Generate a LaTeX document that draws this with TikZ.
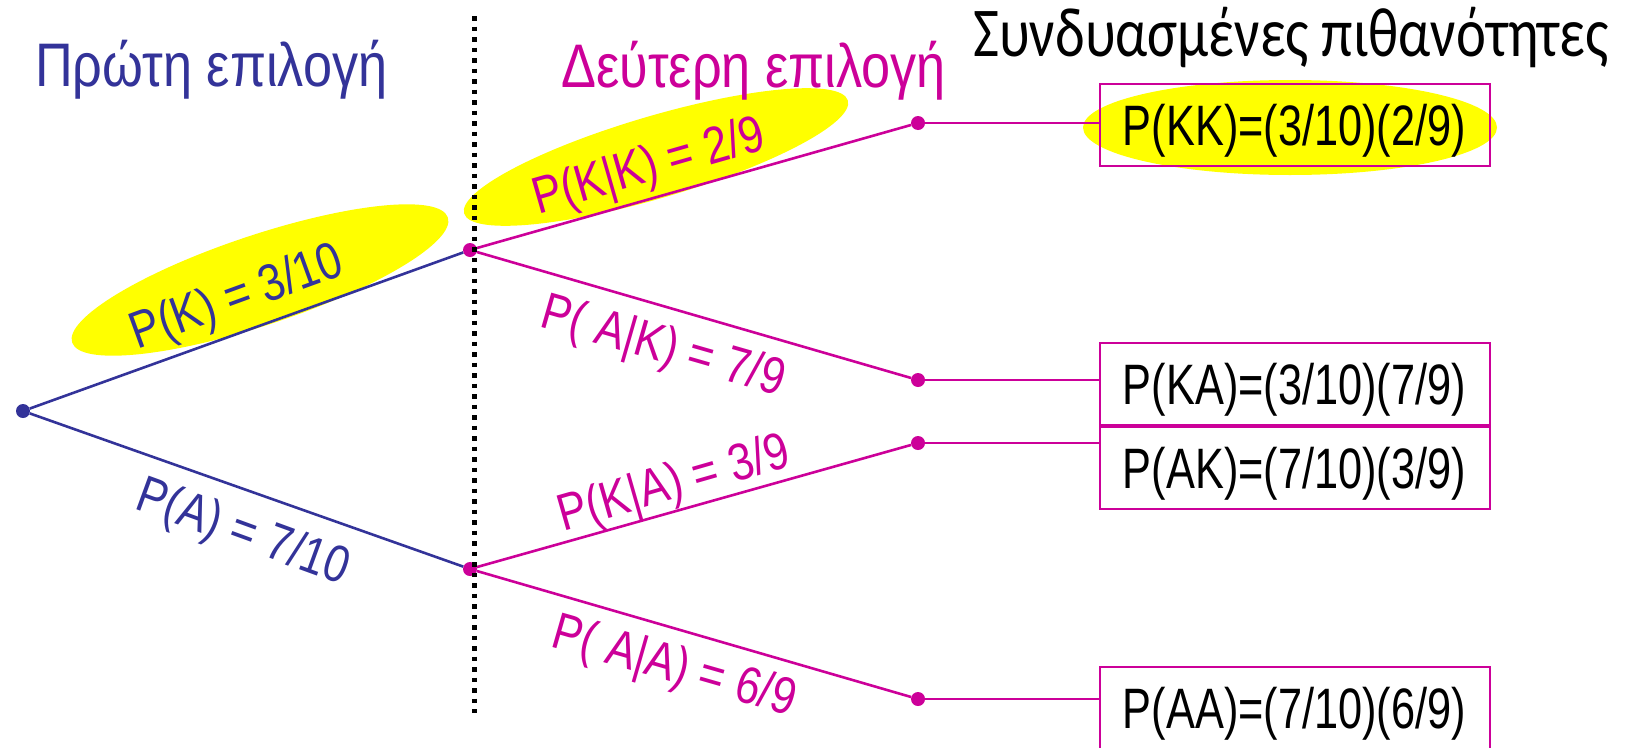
\documentclass[tikz,border=0pt]{standalone}
\usepackage{fontspec}
\setmainfont{Liberation Sans}
\newfontfamily\calfont{Carlito}
\usepackage{graphicx}
\definecolor{first}{HTML}{333399}
\definecolor{second}{HTML}{CC0099}
\definecolor{hilite}{HTML}{FFFF00}
\newcommand\narrow[2]{\scalebox{#1}[1]{#2}}
\tikzset{
  heading/.style={inner sep=0pt, anchor=base west, font=\fontsize{61.5}{70}\selectfont},
  branch/.style={inner sep=0pt, text height=36pt, text depth=0pt,
              font=\fontsize{52}{60}\selectfont},
  joint/.style={draw=second, line width=2pt, minimum width=390pt, minimum height=82pt,
              inner sep=0pt, text height=41pt, text depth=0pt,
              font=\fontsize{57}{66}\selectfont},
  bdot/.style={circle, fill=first, inner sep=0pt, minimum size=14pt},
  mdot/.style={circle, fill=second, inner sep=0pt, minimum size=14pt},
  firstline/.style={draw=first, line width=2.6pt},
  secondline/.style={draw=second, line width=2.6pt},
  tieline/.style={draw=second, line width=2pt},
}
\begin{document}
\begin{tikzpicture}[x=1pt, y=-1pt]
\useasboundingbox (0,0) rectangle (1629,747);

% yellow highlights
\fill[hilite, rotate around={18.4:(260,280)}] (260,280) ellipse [x radius=198pt, y radius=45pt];
\fill[hilite, rotate around={16.4:(656,157)}] (656,157) ellipse [x radius=200pt, y radius=41pt];
\fill[hilite] (1290,127.5) ellipse [x radius=207pt, y radius=47.5pt];

% column headings
\node[heading, text=first] (h1) at (35,86.7) {\narrow{0.85}{Πρώτη επιλογή}};
\node[heading, text=second] (h2) at (561,87) {\narrow{0.85}{Δεύτερη επιλογή}};
\node[heading, font=\calfont\fontsize{70}{80}\selectfont] (h3) at (973,56) {\narrow{0.81}{Συνδυασμένες πιθανότητες}};

% tree
\node[bdot] (root) at (23,411) {};
\node[mdot] (k) at (470,250) {};
\node[mdot] (a) at (470,569) {};
\node[mdot] (kk) at (918,123) {};
\node[mdot] (ka) at (918,380) {};
\node[mdot] (ak) at (918,443) {};
\node[mdot] (aa) at (918,699) {};

\draw[firstline] (root) -- (k);
\draw[firstline] (root) -- (a);
\draw[secondline] (k) -- (kk);
\draw[secondline] (k) -- (ka);
\draw[secondline] (a) -- (ak);
\draw[secondline] (a) -- (aa);

% joint probabilities
\node[joint] (kkbox) at (1294.5,125) {\narrow{0.76}{P(KK)=(3/10)(2/9)}};
\node[joint] (kabox) at (1294.5,384) {\narrow{0.76}{P(KA)=(3/10)(7/9)}};
\node[joint] (akbox) at (1294.5,468) {\narrow{0.76}{P(AK)=(7/10)(3/9)}};
\node[joint] (aabox) at (1294.5,707.5) {\narrow{0.76}{P(AA)=(7/10)(6/9)}};

\draw[tieline] (kk) -- (kk -| kkbox.west);
\draw[tieline] (ka) -- (ka -| kabox.west);
\draw[tieline] (ak) -- (ak -| akbox.west);
\draw[tieline] (aa) -- (aa -| aabox.west);

% branch labels
\node[branch, text=first, rotate=20] (pk) at (236,295) {\narrow{0.84}{P(K) = 3/10}};
\node[branch, text=first, rotate=-20] (pa) at (244,530) {\narrow{0.84}{P(A) = 7/10}};
\node[branch, text=second, rotate=16] (pkk) at (648,164) {\narrow{0.84}{P(K|K) = 2/9}};
\node[branch, text=second, rotate=-16] (pak) at (664,344) {\narrow{0.84}{P( A|K) = 7/9}};
\node[branch, text=second, rotate=16] (pka) at (673,481) {\narrow{0.84}{P(K|A) = 3/9}};
\node[branch, text=second, rotate=-16] (paa) at (675,664) {\narrow{0.84}{P( A|A) = 6/9}};

% divider between the two draws
\draw[line width=5pt, dash pattern=on 4.5pt off 6pt] (474,16) -- (474,713);
\end{tikzpicture}
\end{document}
